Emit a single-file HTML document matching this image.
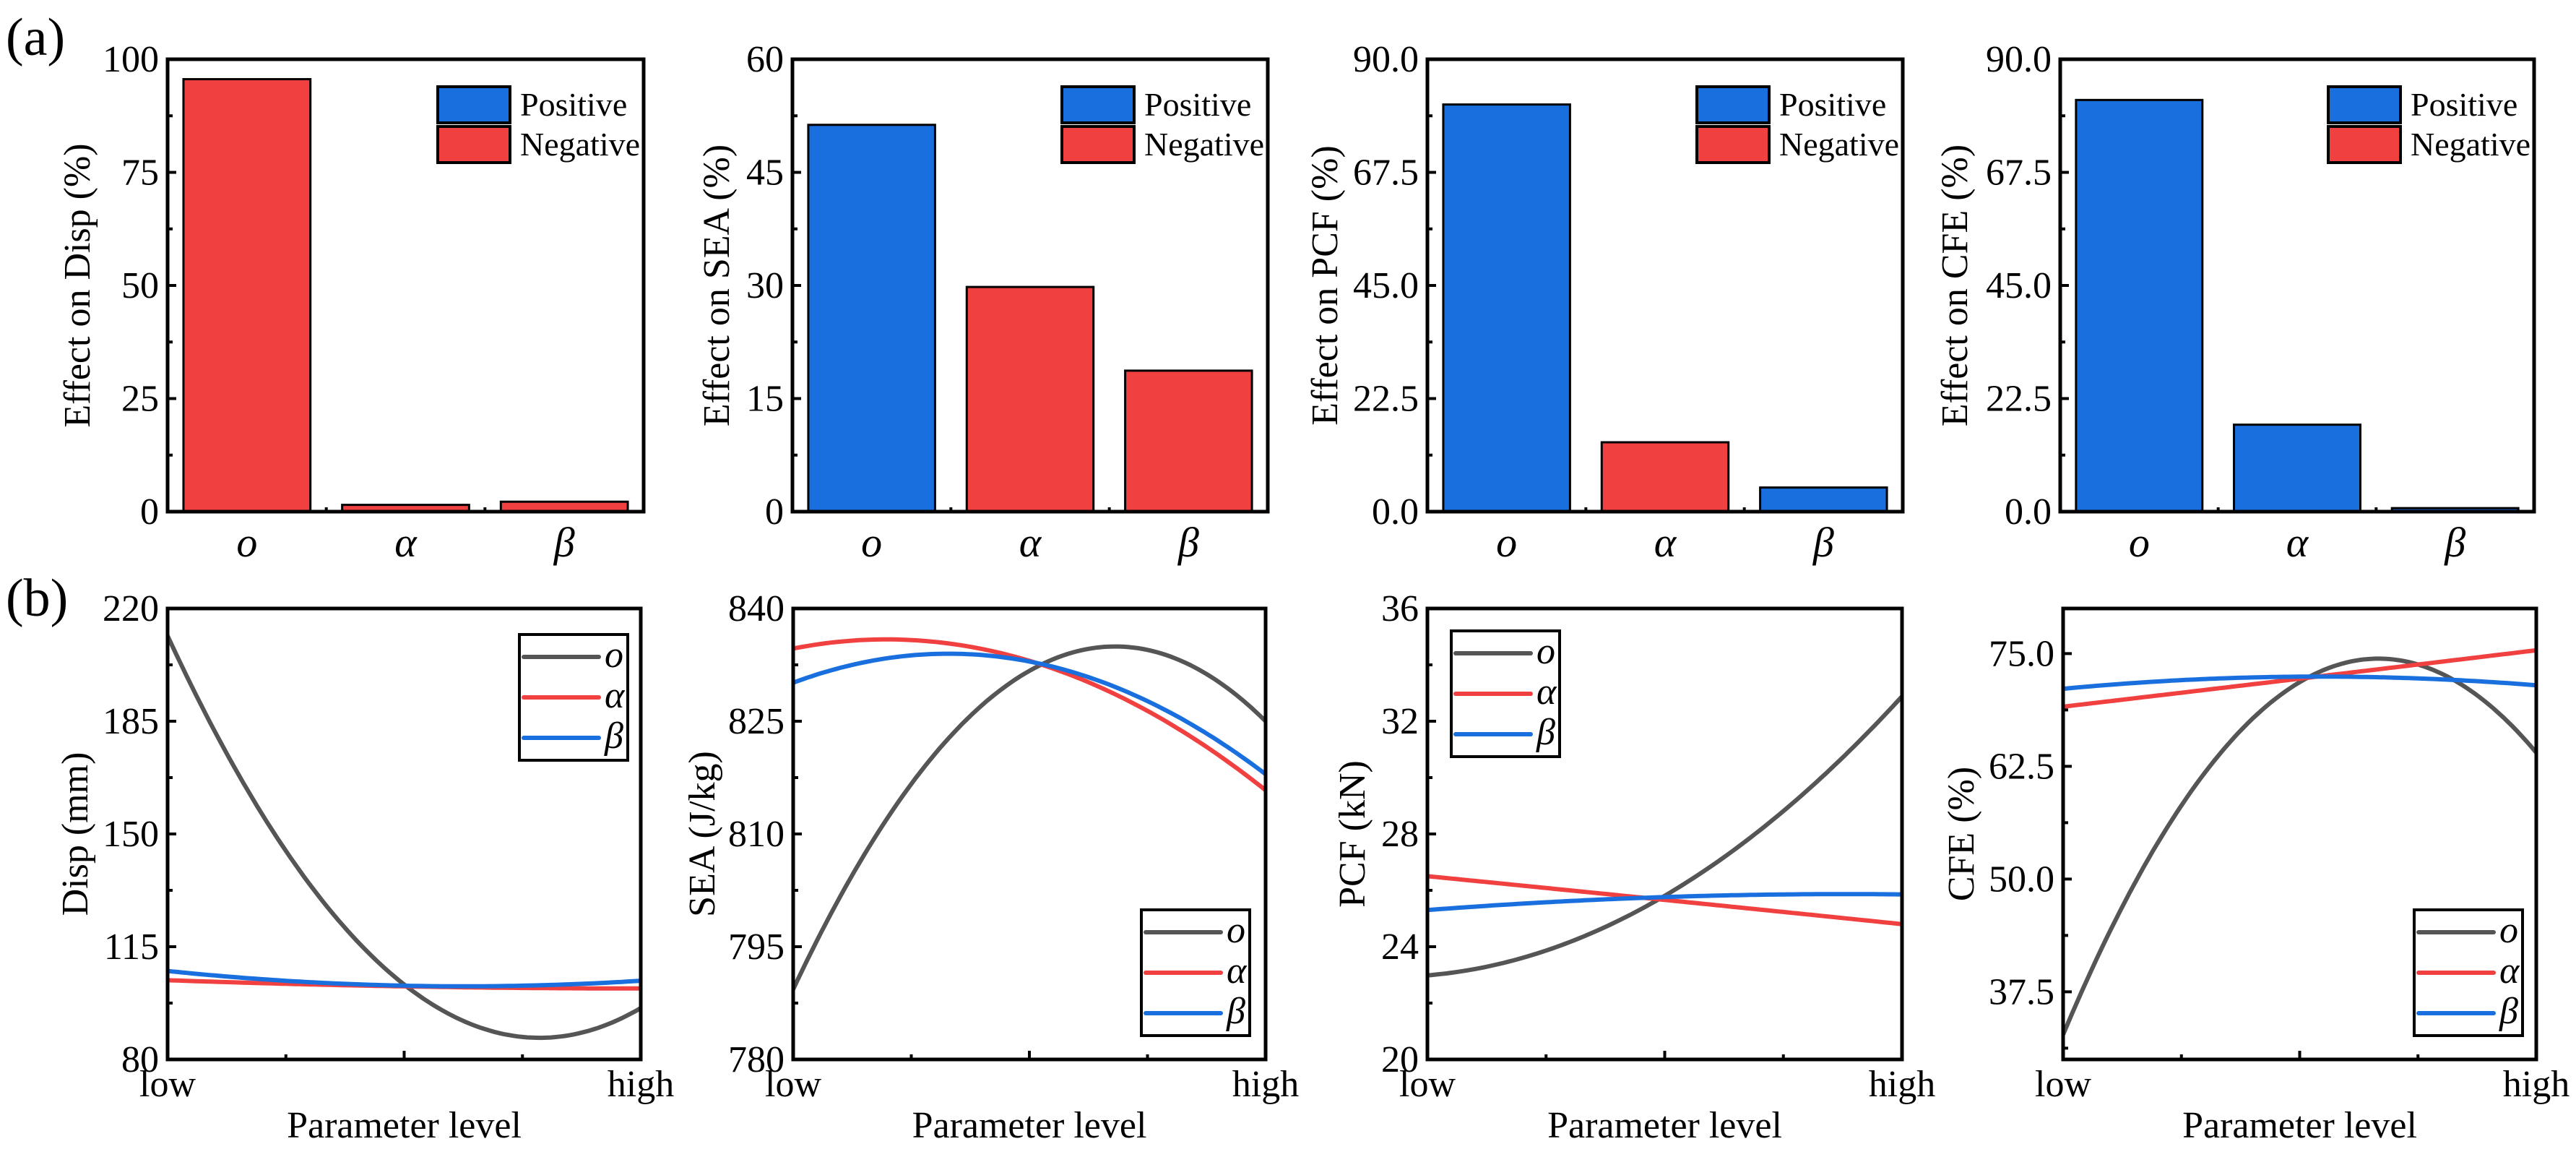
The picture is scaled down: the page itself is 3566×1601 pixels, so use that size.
<!DOCTYPE html>
<html>
<head>
<meta charset="utf-8">
<style>
  html,body{margin:0;padding:0;background:#fff;}
  svg{display:block;}
  svg, svg text{font-family:"Liberation Serif","Times New Roman","Nimbus Roman","FreeSerif","DejaVu Serif",serif !important;}
  svg text{fill:#000;}
</style>
</head>
<body>
<svg id="fig" width="3566" height="1601" viewBox="0 0 3566 1601" xmlns="http://www.w3.org/2000/svg">
  <rect x="0" y="0" width="3566" height="1601" fill="#fff"/>
  <text x="8" y="76" font-size="74">(a)</text>
  <text x="8" y="852" font-size="74">(b)</text>
</svg>
<script>
// ---------- data ----------
const barCategories = ["o", "α", "β"];
const dispEffect = [95.6, 1.5, 2.2];
const dispSign = ["neg", "neg", "neg"];
const seaEffect = [51.3, 29.8, 18.7];
const seaSign = ["pos", "neg", "neg"];
const pcfEffect = [81.0, 13.8, 4.8];
const pcfSign = ["pos", "neg", "pos"];
const cfeEffect = [81.9, 17.3, 0.7];
const cfeSign = ["pos", "pos", "pos"];

const dispTicks = [0, 25, 50, 75, 100];
const seaTicks = [0, 15, 30, 45, 60];
const pcfTicks = ["0.0", "22.5", "45.0", "67.5", "90.0"];
const cfeTicks = ["0.0", "22.5", "45.0", "67.5", "90.0"];

const levelX = [0, 0.125, 0.25, 0.375, 0.5, 0.625, 0.75, 0.875, 1];
const dispO = [210.6, 176, 145.7, 120, 103, 91.8, 86.6, 89, 95.8];
const dispA = [104.6, 104.0, 103.5, 103.0, 102.7, 102.4, 102.2, 102.1, 102.0];
const dispB = [107.3, 105.8, 104.6, 103.6, 102.9, 102.6, 102.7, 103.4, 104.6];
const seaO = [791.1, 802.4, 815.7, 825.8, 832.7, 835.2, 834.8, 830.8, 824.8];
const seaA = [834.8, 835.8, 835.7, 834.6, 832.7, 830.5, 826.8, 821.7, 815.5];
const seaB = [830.2, 832.6, 833.6, 833.8, 832.7, 831.0, 828.0, 823.5, 817.7];
const pcfO = [22.95, 23.3, 23.9, 24.76, 25.77, 27.1, 28.85, 30.7, 32.9];
const pcfA = [26.5, 26.3, 26.08, 25.87, 25.66, 25.45, 25.23, 25.02, 24.8];
const pcfB = [25.3, 25.45, 25.57, 25.68, 25.77, 25.82, 25.85, 25.86, 25.86];
const cfeO = [33.8, 45.5, 58.1, 66.5, 71.9, 74.4, 74.2, 70.7, 63.5];
const cfeA = [69.1, 69.9, 70.7, 71.4, 72.2, 73.0, 73.8, 74.6, 75.35];
const cfeB = [71.2, 71.6, 71.95, 72.25, 72.45, 72.5, 72.35, 71.95, 71.4];

const dispLineTicks = ["80", "115", "150", "185", "220"];
const seaLineTicks = ["780", "795", "810", "825", "840"];
const pcfLineTicks = ["20", "24", "28", "32", "36"];
const cfeLineTicks = ["37.5", "50.0", "62.5", "75.0"];
const seriesNames = ["o", "α", "β"];

// ---------- helpers ----------
const NS = "http://www.w3.org/2000/svg";
const svg = document.getElementById("fig");
const BLUE = "#1a6fdf", RED = "#f14040", GRAY = "#555555";
function mk(tag, attrs, parent) {
  const e = document.createElementNS(NS, tag);
  for (const k in attrs) e.setAttribute(k, attrs[k]);
  (parent || svg).appendChild(e);
  return e;
}
function txt(str, attrs, parent) {
  const e = mk("text", attrs, parent);
  e.textContent = str;
  return e;
}
function frame(g, L, T, R, B) {
  const f = mk("rect", {x: L, y: T, width: R - L, height: B - T, fill: "none", stroke: "#000", "stroke-width": 5}, g);
  
  
}
function quadFit(xs, ys) {
  let s = [0,0,0,0,0], t = [0,0,0];
  for (let i = 0; i < xs.length; i++) {
    const x = xs[i], y = ys[i];
    let p = 1;
    for (let k = 0; k < 5; k++) { s[k] += p; p *= x; }
    t[0] += y; t[1] += y * x; t[2] += y * x * x;
  }
  const A = [[s[0], s[1], s[2], t[0]], [s[1], s[2], s[3], t[1]], [s[2], s[3], s[4], t[2]]];
  for (let i = 0; i < 3; i++) {
    for (let j = i + 1; j < 3; j++) {
      const f = A[j][i] / A[i][i];
      for (let k = i; k < 4; k++) A[j][k] -= f * A[i][k];
    }
  }
  const c = [0,0,0];
  for (let i = 2; i >= 0; i--) {
    let v = A[i][3];
    for (let k = i + 1; k < 3; k++) v -= A[i][k] * c[k];
    c[i] = v / A[i][i];
  }
  return x => c[0] + c[1] * x + c[2] * x * x;
}

// ---------- bar panels ----------
const barPanels = [
  {L: 232, R: 891, title: "Effect on Disp (%)", vals: dispEffect, signs: dispSign, ticks: dispTicks, max: 100, tgap: 125, id: "disp"},
  {L: 1097, R: 1755, title: "Effect on SEA (%)", vals: seaEffect, signs: seaSign, ticks: seaTicks, max: 60, tgap: 105, id: "sea"},
  {L: 1976, R: 2634, title: "Effect on PCF (%)", vals: pcfEffect, signs: pcfSign, ticks: pcfTicks, max: 90, tgap: 142, id: "pcf"},
  {L: 2852, R: 3508, title: "Effect on CFE (%)", vals: cfeEffect, signs: cfeSign, ticks: cfeTicks, max: 90, tgap: 146, id: "cfe"}
];
const TT = 82, TB = 708;
barPanels.forEach(p => {
  const g = mk("g", {});
  
  
  const W = p.R - p.L;
  const y = v => TB - (v / p.max) * (TB - TT);
  const slot = W / barCategories.length;
  p.vals.forEach((v, i) => {
    const bw = slot * 0.8;
    const cx = p.L + slot * (i + 0.5);
    const r = mk("rect", {x: cx - bw / 2, y: y(v), width: bw, height: TB - y(v),
      fill: p.signs[i] === "pos" ? BLUE : RED, stroke: "#000", "stroke-width": 3}, g);
    
    
    const c = txt(barCategories[i], {x: cx, y: 770, "font-size": 58, "font-style": "italic", "text-anchor": "middle"}, g);
    
    
  });
  for (let i = 1; i < barCategories.length; i++) {
    const xx = p.L + slot * i;
    const t = mk("line", {x1: xx, x2: xx, y1: TB, y2: TB - 6, stroke: "#000", "stroke-width": 4}, g);
    
    
  }
  const n = p.ticks.length;
  for (let i = 0; i < n; i++) {
    const v = p.max * i / (n - 1);
    const yy = y(v);
    const t = mk("line", {x1: p.L, x2: p.L + 12, y1: yy, y2: yy, stroke: "#000", "stroke-width": 4}, g);
    
    
    const lab = txt(String(p.ticks[i]), {x: p.L - 12, y: yy + 17, "font-size": 52, "text-anchor": "end"}, g);
    
    
    if (i < n - 1) {
      const ym = y(v + p.max / (n - 1) / 2);
      const m = mk("line", {x1: p.L, x2: p.L + 7, y1: ym, y2: ym, stroke: "#000", "stroke-width": 4}, g);
      
      
    }
  }
  frame(g, p.L, TT, p.R, TB);
  const cy = (TT + TB) / 2, tx = p.L - p.tgap;
  const at = txt(p.title, {x: tx, y: cy, "font-size": 52, "text-anchor": "middle", transform: `rotate(-90 ${tx} ${cy})`, dy: 17}, g);
  
  
  const sx = p.R - 285;
  const lg = mk("g", {}, g);
  
  
  [["Positive", BLUE, 120], ["Negative", RED, 175]].forEach(([name, col, yy]) => {
    const s = mk("rect", {x: sx, y: yy, width: 100, height: 50, fill: col, stroke: "#000", "stroke-width": 4}, lg);
    
    
    const t = txt(name, {x: sx + 114, y: yy + 40, "font-size": 46}, lg);
    
    
  });
});

// ---------- line panels ----------
const BT = 842, BB = 1466;
const linePanels = [
  {L: 232, R: 887, title: "Disp (mm)", min: 80, max: 220, ticks: dispLineTicks, tickStart: 80, tickStep: 35, series: [dispO, dispA, dispB], tgap: 128, legX: 719, legY: 878, id: "disp"},
  {L: 1098, R: 1752, title: "SEA (J/kg)", min: 780, max: 840, ticks: seaLineTicks, tickStart: 780, tickStep: 15, series: [seaO, seaA, seaB], tgap: 126, legX: 1580, legY: 1259, id: "sea"},
  {L: 1976, R: 2633, title: "PCF (kN)", min: 20, max: 36, ticks: pcfLineTicks, tickStart: 20, tickStep: 4, series: [pcfO, pcfA, pcfB], tgap: 104, legX: 2009, legY: 873, id: "pcf"},
  {L: 2856, R: 3511, title: "CFE (%)", min: 30, max: 80, ticks: cfeLineTicks, tickStart: 37.5, tickStep: 12.5, series: [cfeO, cfeA, cfeB], tgap: 141, legX: 3342, legY: 1259, id: "cfe"}
];
const seriesColors = [GRAY, RED, BLUE];

linePanels.forEach(p => {
  const g = mk("g", {});
  
  
  const xs = t => p.L + t * (p.R - p.L);
  const ys = v => BB - (v - p.min) / (p.max - p.min) * (BB - BT);
  const clip = mk("clipPath", {id: "clip-" + p.id}, g);
  mk("rect", {x: p.L, y: BT, width: p.R - p.L, height: BB - BT}, clip);
  p.series.forEach((arr, si) => {
    const f = quadFit(levelX, arr);
    let d = "";
    for (let k = 0; k <= 100; k++) {
      const t = k / 100;
      d += (k ? " L" : "M") + xs(t).toFixed(1) + "," + ys(f(t)).toFixed(1);
    }
    const path = mk("path", {d: d, fill: "none", stroke: seriesColors[si], "stroke-width": 6, "clip-path": `url(#clip-${p.id})`}, g);
    
    
  });
  p.ticks.forEach((lab, i) => {
    const v = p.tickStart + i * p.tickStep;
    const yy = ys(v);
    const t = mk("line", {x1: p.L, x2: p.L + 12, y1: yy, y2: yy, stroke: "#000", "stroke-width": 4}, g);
    
    
    const tl = txt(lab, {x: p.L - 12, y: yy + 17, "font-size": 52, "text-anchor": "end"}, g);
    
    
  });
  for (let v = p.tickStart - p.tickStep / 2; v < p.max; v += p.tickStep) {
    if (v <= p.min || v >= p.max) continue;
    const yy = ys(v);
    const m = mk("line", {x1: p.L, x2: p.L + 7, y1: yy, y2: yy, stroke: "#000", "stroke-width": 4}, g);
    
    
  }
  [[0.25, 7], [0.5, 12], [0.75, 7]].forEach(([t, len]) => {
    const xx = xs(t);
    const tk = mk("line", {x1: xx, x2: xx, y1: BB, y2: BB - len, stroke: "#000", "stroke-width": 4}, g);
    
    
  });
  frame(g, p.L, BT, p.R, BB);
  const lo = txt("low", {x: p.L, y: 1517, "font-size": 52, "text-anchor": "middle"}, g);
  
  
  const hi = txt("high", {x: p.R, y: 1517, "font-size": 52, "text-anchor": "middle"}, g);
  
  
  const xt = txt("Parameter level", {x: (p.L + p.R) / 2, y: 1574, "font-size": 52, "text-anchor": "middle"}, g);
  
  
  const cy = (BT + BB) / 2, tx = p.L - p.tgap;
  const at = txt(p.title, {x: tx, y: cy, "font-size": 52, "text-anchor": "middle", transform: `rotate(-90 ${tx} ${cy})`, dy: 17}, g);
  
  
  const lg = mk("g", {}, g);
  
  
  const box = mk("rect", {x: p.legX, y: p.legY, width: 150, height: 174, fill: "#fff", stroke: "#000", "stroke-width": 4}, lg);
  
  
  seriesNames.forEach((nm, si) => {
    const ry = p.legY + 31 + si * 56;
    const ln = mk("line", {x1: p.legX + 6, x2: p.legX + 110, y1: ry, y2: ry, stroke: seriesColors[si], "stroke-width": 6, "stroke-linecap": "round"}, lg);
    
    
    const lt = txt(nm, {x: p.legX + 118, y: ry + 14, "font-size": 52, "font-style": "italic"}, lg);
    
    
  });
});
</script>
</body>
</html>
